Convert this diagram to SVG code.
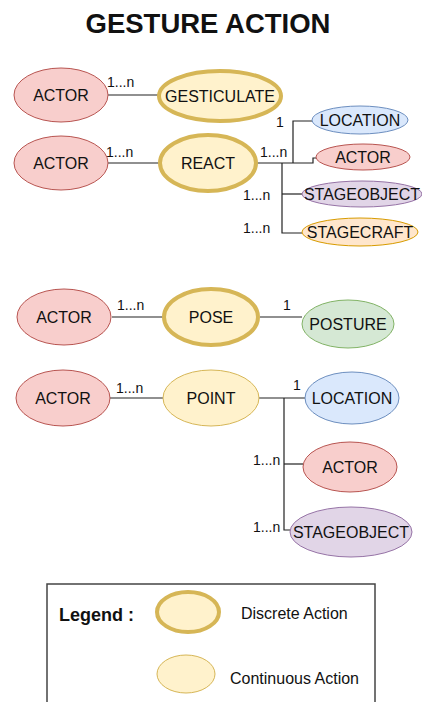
<svg xmlns="http://www.w3.org/2000/svg" width="422" height="702" viewBox="0 0 422 702">
<style>
text{font-family:"Liberation Sans",Arial,sans-serif;fill:#111}
.n{font-size:16px;text-anchor:middle}
.l{font-size:14px}
.actor{fill:#f8cecc;stroke:#b85450;stroke-width:1}
.disc{fill:#fff2cc;stroke:#d6b656;stroke-width:4}
.cont{fill:#fff2cc;stroke:#d6b656;stroke-width:1}
.loc{fill:#dae8fc;stroke:#6c8ebf;stroke-width:1}
.obj{fill:#e1d5e7;stroke:#9673a6;stroke-width:1}
.craft{fill:#ffe6cc;stroke:#d79b00;stroke-width:1}
.post{fill:#d5e8d4;stroke:#82b366;stroke-width:1}
.c{fill:none;stroke:#222;stroke-width:1.2}
</style>
<rect width="422" height="702" fill="#fff"/>
<text x="208" y="33" font-size="27.5" font-weight="bold" text-anchor="middle">GESTURE ACTION</text>

<g id="connectors">
<path class="c" d="M108 95H158"/>
<path class="c" d="M108 163H159"/>
<path class="c" d="M257 163H313V158H316"/>
<path class="c" d="M293 163V121H312"/>
<path class="c" d="M282 163V233H302"/>
<path class="c" d="M282 194H302"/>
<path class="c" d="M112 317H163"/>
<path class="c" d="M260 317H302"/>
<path class="c" d="M110 398H163"/>
<path class="c" d="M258 398H305"/>
<path class="c" d="M284 398V530H290"/>
<path class="c" d="M284 464H303"/>
</g>

<g id="labels">
<text class="l" x="107" y="87">1...n</text>
<text class="l" x="106" y="157">1...n</text>
<text class="l" x="260" y="157">1...n</text>
<text class="l" x="276" y="127">1</text>
<text class="l" x="243" y="200">1...n</text>
<text class="l" x="243" y="233">1...n</text>
<text class="l" x="117" y="310">1...n</text>
<text class="l" x="283" y="310">1</text>
<text class="l" x="116" y="393">1...n</text>
<text class="l" x="293" y="390">1</text>
<text class="l" x="253" y="465">1...n</text>
<text class="l" x="253" y="532">1...n</text>
</g>

<g id="actor1"><ellipse class="actor" cx="61" cy="95" rx="47" ry="27"/><text class="n" x="61" y="101">ACTOR</text></g>
<g id="gesticulate"><ellipse class="disc" cx="220" cy="96" rx="61" ry="25"/><text class="n" x="220" y="102">GESTICULATE</text></g>

<g id="actor2"><ellipse class="actor" cx="61" cy="163" rx="47" ry="27"/><text class="n" x="61" y="169">ACTOR</text></g>
<g id="react"><ellipse class="disc" cx="208" cy="163" rx="48" ry="28"/><text class="n" x="208" y="169">REACT</text></g>
<g id="location1"><ellipse class="loc" cx="360" cy="120" rx="48" ry="14"/><text class="n" x="360" y="126">LOCATION</text></g>
<g id="actor3"><ellipse class="actor" cx="363" cy="157" rx="47" ry="13"/><text class="n" x="363" y="163">ACTOR</text></g>
<g id="stageobject1"><ellipse class="obj" cx="362" cy="194" rx="60" ry="13"/><text class="n" x="362" y="200">STAGEOBJECT</text></g>
<g id="stagecraft"><ellipse class="craft" cx="360" cy="232" rx="58" ry="14"/><text class="n" x="360" y="238">STAGECRAFT</text></g>

<g id="actor4"><ellipse class="actor" cx="64" cy="317" rx="47" ry="28"/><text class="n" x="64" y="323">ACTOR</text></g>
<g id="pose"><ellipse class="disc" cx="211" cy="317" rx="47" ry="28"/><text class="n" x="211" y="323">POSE</text></g>
<g id="posture"><ellipse class="post" cx="348" cy="324" rx="46" ry="24"/><text class="n" x="348" y="330">POSTURE</text></g>

<g id="actor5"><ellipse class="actor" cx="63" cy="398" rx="47" ry="28"/><text class="n" x="63" y="404">ACTOR</text></g>
<g id="point"><ellipse class="cont" cx="211" cy="398" rx="48" ry="28"/><text class="n" x="211" y="404">POINT</text></g>
<g id="location2"><ellipse class="loc" cx="352" cy="398" rx="47" ry="26"/><text class="n" x="352" y="404">LOCATION</text></g>
<g id="actor6"><ellipse class="actor" cx="350" cy="467" rx="47" ry="25"/><text class="n" x="350" y="473">ACTOR</text></g>
<g id="stageobject2"><ellipse class="obj" cx="351" cy="532" rx="61" ry="25"/><text class="n" x="351" y="538">STAGEOBJECT</text></g>

<g id="legend">
<rect x="47" y="584" width="328" height="130" fill="#fff" stroke="#444" stroke-width="1.5"/>
<text x="59" y="621" font-size="18" font-weight="bold">Legend :</text>
<ellipse class="disc" cx="188" cy="612" rx="31" ry="20"/>
<text x="241" y="619" font-size="16">Discrete Action</text>
<ellipse class="cont" cx="186" cy="674" rx="29" ry="19"/>
<text x="230" y="684" font-size="16">Continuous Action</text>
</g>
</svg>
